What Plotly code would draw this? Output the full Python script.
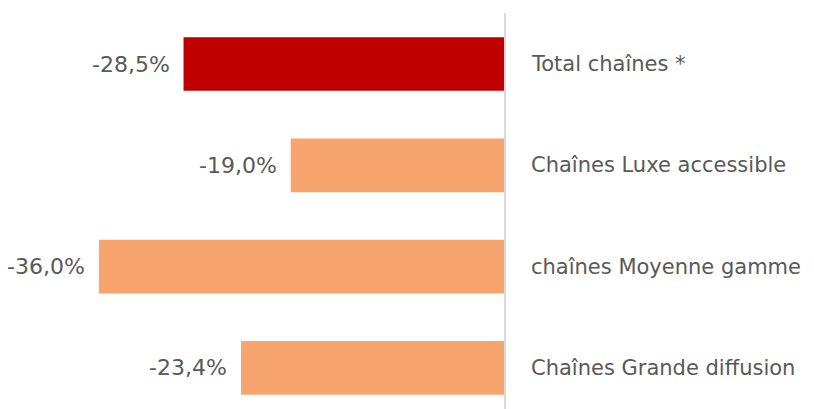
import plotly.graph_objects as go

categories = ["Total chaînes *", "Chaînes Luxe accessible", "chaînes Moyenne gamme", "Chaînes Grande diffusion"]
values = [-28.5, -19.0, -36.0, -23.4]
value_labels = ["-28,5%", "-19,0%", "-36,0%", "-23,4%"]
bar_colors = ["#C00000", "#F8A46E", "#F8A46E", "#F8A46E"]

font_family = "DejaVu Sans, Roboto, Arial, sans-serif"
text_color = "#595959"

fig = go.Figure()
fig.add_trace(go.Bar(
    x=values,
    y=list(range(len(categories))),
    orientation="h",
    marker=dict(color=bar_colors, line=dict(width=0)),
    width=0.53,
    hoverinfo="skip",
))

annotations = []
for i, (cat, v, lab) in enumerate(zip(categories, values, value_labels)):
    annotations.append(dict(x=0, y=i, xref="x", yref="y", text=cat, showarrow=False,
                            xanchor="left", yanchor="middle", xshift=24,
                            font=dict(family=font_family, size=21, color=text_color)))
    annotations.append(dict(x=v, y=i, xref="x", yref="y", text=lab, showarrow=False,
                            xanchor="right", yanchor="middle", xshift=-12,
                            font=dict(family=font_family, size=22, color=text_color)))

# px per unit: 11.28 horizontally, 101.3 vertically
fig.update_layout(
    width=806, height=401,
    margin=dict(l=0, r=0, t=0, b=0),
    paper_bgcolor="white", plot_bgcolor="white",
    showlegend=False,
    xaxis=dict(range=[-44.06, 27.39], visible=False, fixedrange=True),
    yaxis=dict(range=[3.406, -0.553], visible=False, fixedrange=True),
    annotations=annotations,
    shapes=[dict(type="line", xref="x", yref="paper", x0=0, x1=0, y0=0, y1=396/401,
                 line=dict(color="#D9D9D9", width=2), layer="above")],
)

fig.write_html("out.html")
